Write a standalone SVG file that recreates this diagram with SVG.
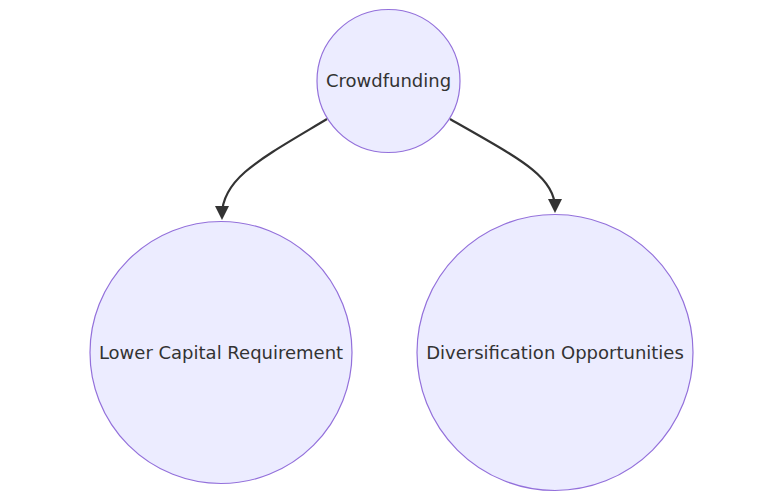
<svg xmlns="http://www.w3.org/2000/svg" width="783" height="502" viewBox="0 0 783 502">
<style>
.node circle{fill:#ECECFF;stroke:#9370DB;stroke-width:1.2}
.node text{font-family:"DejaVu Sans",sans-serif;font-size:18px;fill:#333333;text-anchor:middle}
.edge{fill:none;stroke:#333333;stroke-width:2.2}
</style>
<defs>
<marker id="arrow" viewBox="0 0 10 10" refX="6.4" refY="5" markerWidth="14" markerHeight="15" markerUnits="userSpaceOnUse" orient="auto">
<path d="M0,0 L10,5 L0,10 z" fill="#333333"/>
</marker>
</defs>
<rect width="783" height="502" fill="#ffffff"/>
<g id="edges">
<path class="edge" d="M327,119 C262,158 222,178 222,215" marker-end="url(#arrow)"/>
<path class="edge" d="M450,119 C518,158 555,176 555,208" marker-end="url(#arrow)"/>
</g>
<g id="crowdfunding" class="node">
<circle cx="388.5" cy="81" r="71.5"/>
<text x="388.5" y="87">Crowdfunding</text>
</g>
<g id="lower-capital" class="node">
<circle cx="221" cy="352.5" r="131"/>
<text x="221" y="358.5">Lower Capital Requirement</text>
</g>
<g id="diversification" class="node">
<circle cx="555" cy="352.5" r="138"/>
<text x="555" y="358.5">Diversification Opportunities</text>
</g>
</svg>
